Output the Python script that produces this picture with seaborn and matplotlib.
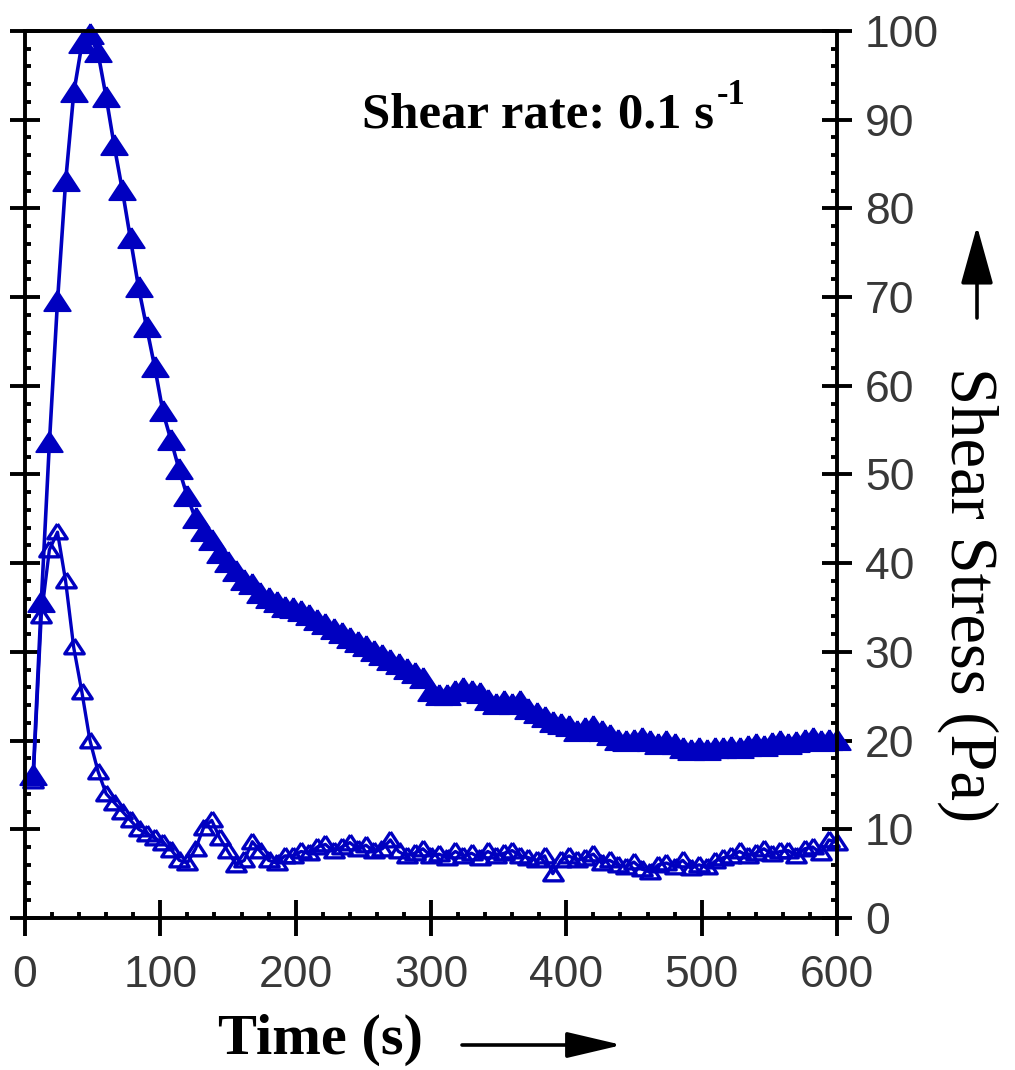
import matplotlib
matplotlib.use("Agg")
import matplotlib.pyplot as plt
import seaborn as sns
import numpy as np
from matplotlib.ticker import MultipleLocator

# ---------------- data ----------------
time_s = [6, 12, 18, 24, 30, 36, 42, 48, 54, 60,
          66, 72, 78, 84, 90, 96, 102, 108, 114, 120,
          126, 132, 138, 144, 150, 156, 162, 168, 174, 180,
          186, 192, 198, 204, 210, 216, 222, 228, 234, 240,
          246, 252, 258, 264, 270, 276, 282, 288, 294, 300,
          306, 312, 318, 324, 330, 336, 342, 348, 354, 360,
          366, 372, 378, 384, 390, 396, 402, 408, 414, 420,
          426, 432, 438, 444, 450, 456, 462, 468, 474, 480,
          486, 492, 498, 504, 510, 516, 522, 528, 534, 540,
          546, 552, 558, 564, 570, 576, 582, 588, 594, 600]

stress_filled = [16, 35.5, 53.5, 69.5, 83, 93, 98.5, 99.5, 97.5, 92.5,
                 87, 82, 76.5, 71, 66.5, 62, 57, 53.8, 50.5, 47.5,
                 45, 43.5, 42.5, 41, 40, 39, 38, 37.5, 36.5, 36,
                 35.5, 35, 34.8, 34.5, 34, 33.5, 33, 32.5, 32, 31.5,
                 31, 30.5, 30, 29.5, 29, 28.5, 28, 27.5, 27, 25.5,
                 25, 25, 25.5, 25.8, 25.5, 25.3, 24.5, 24, 24.3, 24,
                 24.3, 23.5, 23, 22.5, 22, 21.8, 21.5, 21, 21.3, 21.5,
                 21, 20.5, 20, 19.8, 20, 20.2, 19.8, 19.5, 19.8, 19.5,
                 19, 18.8, 19, 18.8, 19, 19, 19.2, 19, 19.3, 19.5,
                 19.3, 19.6, 19.8, 19.5, 19.7, 20, 20.2, 19.8, 20, 20]

stress_open = [15.5, 34, 41.5, 43.5, 38, 30.5, 25.5, 20, 16.5, 14,
               13, 12, 11, 10, 9.5, 9, 8.5, 7.7, 6.5, 6.2,
               7.8, 10.2, 11, 9, 7.5, 6, 6.5, 8.6, 7.5, 6.5,
               6.2, 7, 7, 7.5, 7.3, 8, 8.3, 7.5, 8, 8.5,
               7.8, 8.2, 7.5, 7.8, 8.8, 7.5, 7, 7.3, 7.8, 7,
               7.2, 6.8, 7.5, 7, 7.3, 6.8, 7.5, 7, 7.3, 7.6,
               7, 6.8, 6.5, 7, 5, 6.5, 7, 6.5, 6.8, 7.2,
               6.2, 6.5, 6, 5.8, 6.3, 5.5, 5.2, 6, 6.2, 5.8,
               6.5, 5.6, 6, 5.7, 6.4, 6.8, 7, 7.5, 7, 7.3,
               7.8, 7.2, 7.5, 7.6, 7, 7.8, 8, 7.3, 8.8, 8.5]

x_ticks = [0, 100, 200, 300, 400, 500, 600]
y_ticks = [0, 10, 20, 30, 40, 50, 60, 70, 80, 90, 100]

# ---------------- style ----------------
sns.set_theme(style="white")
plt.rcParams['font.family'] = ['Liberation Sans', 'DejaVu Sans']

W, H = 1015, 1070
fig = plt.figure(figsize=(W / 100, H / 100), dpi=100)
ax = fig.add_axes([25 / W, 1 - 918 / H, (837 - 25) / W, (918 - 31) / H])

blue = '#0000C0'
tri = [(0, 1.0), (-1.15, -0.75), (1.15, -0.75), (0, 1.0)]

sns.lineplot(x=time_s, y=stress_filled, ax=ax, color=blue, lw=2.6,
             marker=tri, markersize=19, markerfacecolor=blue,
             markeredgecolor=blue, markeredgewidth=1.4, clip_on=False,
             errorbar=None, sort=False)
sns.lineplot(x=time_s, y=stress_open, ax=ax, color=blue, lw=2.4,
             marker=tri, markersize=14, markerfacecolor='none',
             markeredgecolor=blue, markeredgewidth=2.4, clip_on=False,
             errorbar=None, sort=False)

ax.set_xlim(0, 600)
ax.set_ylim(0, 100)
ax.set_xticks(x_ticks)
ax.set_yticks(y_ticks)
ax.xaxis.set_minor_locator(MultipleLocator(20))
ax.yaxis.set_minor_locator(MultipleLocator(2))
ax.set_xlabel('')
ax.set_ylabel('')

for s in ax.spines.values():
    s.set_visible(True)
    s.set_linewidth(2.8)
    s.set_color('black')

ax.tick_params(axis='x', which='major', direction='inout', length=26, width=2.8,
               bottom=True, top=False, pad=13.5, labelsize=32,
               labelcolor='#383838', color='black')
ax.tick_params(axis='x', which='minor', direction='in', length=4.5, width=2.8,
               bottom=True, top=False, color='black')
ax.tick_params(axis='y', which='major', direction='inout', length=22, width=2.8,
               left=True, right=True, labelleft=False, labelright=True,
               pad=9, labelsize=32, labelcolor='#383838', color='black')
ax.tick_params(axis='y', which='minor', direction='in', length=4.5, width=2.8,
               left=True, right=True, color='black')

# ---------------- texts ----------------
serif = ['Liberation Serif', 'DejaVu Serif']
fig.text(320 / W, 1 - 1040 / H, 'Time (s)', family=serif, fontweight='bold',
         fontsize=42, ha='center', va='center', color='black')
fig.text(968 / W, 1 - 595 / H, 'Shear Stress (Pa)', family=serif,
         fontsize=48, rotation=270, ha='center', va='center', color='black')

t1 = fig.text(362 / W, 1 - 128 / H, 'Shear rate: 0.1 s', family=serif,
              fontweight='bold', fontsize=36.5, ha='left', va='baseline',
              color='black')
fig.canvas.draw()
bb = t1.get_window_extent()
fig.text((bb.x1 + 3) / W, 1 - 104 / H, '-1', family=serif, fontweight='bold',
         fontsize=25, ha='left', va='baseline', color='black')

# arrows
ax.annotate('', xy=(977, H - 226), xytext=(977, H - 318),
            xycoords='figure pixels', textcoords='figure pixels',
            arrowprops=dict(arrowstyle='-|>,head_length=3.6,head_width=1.0',
                            mutation_scale=10, lw=2.6, color='black',
                            shrinkA=0, shrinkB=0))
ax.annotate('', xy=(622, H - 1045), xytext=(462, H - 1045),
            xycoords='figure pixels', textcoords='figure pixels',
            arrowprops=dict(arrowstyle='-|>,head_length=3.4,head_width=0.8',
                            mutation_scale=10, lw=2.6, color='black',
                            shrinkA=0, shrinkB=0))

fig.savefig('out.png', dpi=100, facecolor='white')
